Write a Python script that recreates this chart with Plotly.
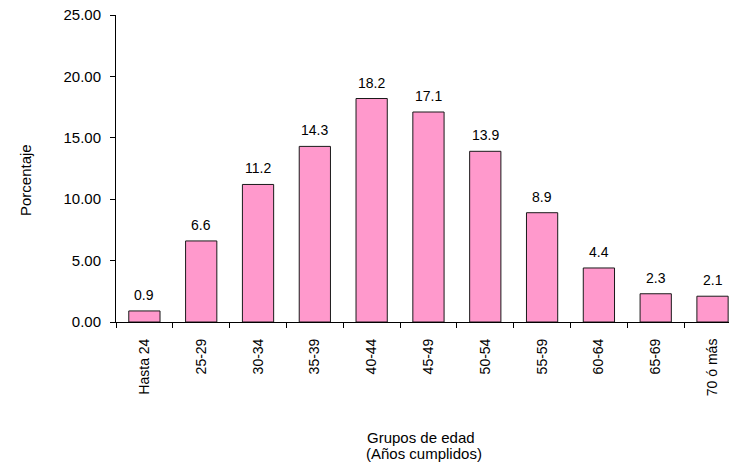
import plotly.graph_objects as go

categories = ["Hasta 24", "25-29", "30-34", "35-39", "40-44", "45-49",
              "50-54", "55-59", "60-64", "65-69", "70 ó más"]
values = [0.9, 6.6, 11.2, 14.3, 18.2, 17.1, 13.9, 8.9, 4.4, 2.3, 2.1]
y_ticks = [0, 5, 10, 15, 20, 25]
y_tick_labels = ["0.00", "5.00", "10.00", "15.00", "20.00", "25.00"]

font_family = "Liberation Sans, Arial, sans-serif"

fig = go.Figure(go.Bar(
    x=categories,
    y=values,
    width=0.55,
    marker=dict(color="#FF99CC", line=dict(color="#1a1a1a", width=1)),
    hoverinfo="x+y",
))

for c, v in zip(categories, values):
    fig.add_annotation(
        x=c, y=v, xref="x", yref="y",
        text=f"{v:.1f}", showarrow=False,
        yanchor="middle", yshift=16,
        font=dict(family=font_family, size=14, color="black"),
    )

fig.update_layout(
    width=729, height=463,
    margin=dict(l=116, r=0, t=15, b=141, autoexpand=False),
    paper_bgcolor="white", plot_bgcolor="white",
    font=dict(family=font_family, size=14, color="black"),
    showlegend=False,
)

fig.update_xaxes(
    type="category",
    range=[-0.5, 10.29],
    showline=True, linecolor="black", linewidth=1,
    ticks="outside", tickson="boundaries", ticklen=5, tickcolor="black",
    tickangle=-90,
    ticklabelstandoff=10,
    tickfont=dict(family=font_family, size=14),
    showgrid=False, automargin=False,
)
fig.update_yaxes(
    range=[0, 25],
    tickvals=y_ticks, ticktext=y_tick_labels,
    showline=True, linecolor="black", linewidth=1,
    ticks="outside", ticklen=5, tickcolor="black",
    ticklabelstandoff=6,
    tickfont=dict(family=font_family, size=15),
    showgrid=False, zeroline=False, automargin=False,
)

fig.add_annotation(
    text="Porcentaje", xref="paper", yref="paper",
    x=(25 - 116) / 613, y=(322 - 180) / 307, xanchor="center", yanchor="middle",
    textangle=-90, showarrow=False,
    font=dict(family=font_family, size=15),
)
fig.add_annotation(
    text="Grupos de edad", xref="paper", yref="paper",
    x=(421 - 116) / 613, y=(322 - 437) / 307, xanchor="center", yanchor="middle",
    showarrow=False,
    font=dict(family=font_family, size=15),
)
fig.add_annotation(
    text="(Años cumplidos)", xref="paper", yref="paper",
    x=(424 - 116) / 613, y=(322 - 453) / 307, xanchor="center", yanchor="middle",
    showarrow=False,
    font=dict(family=font_family, size=15),
)

fig.write_html("out.html", config={"displayModeBar": False},
               post_script="document.body.style.margin='0';")
